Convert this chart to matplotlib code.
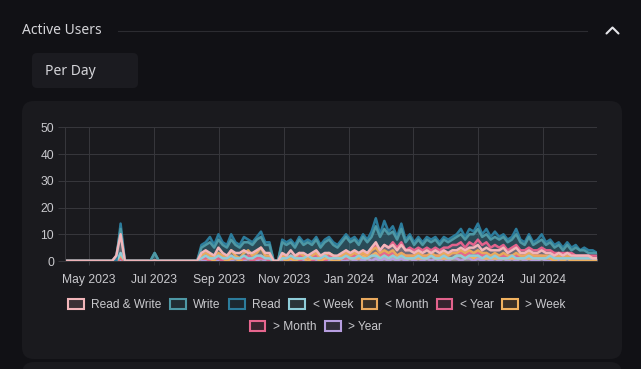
import numpy as np
import pandas as pd
import matplotlib
matplotlib.use("Agg")
import matplotlib.pyplot as plt
import matplotlib.dates as mdates
from matplotlib.patches import FancyBboxPatch, Patch
from matplotlib.colors import to_rgba

# one point every 4 days, 2023-04-09 .. 2024-08-21
dates = pd.date_range("2023-04-09", periods=126, freq="4D")

read = ([0] * 12 + [0, 14, 0] + [0] * 6 + [3] + [0] * 10
        + [6, 7, 9, 6, 10, 7, 6, 10, 7, 6, 9, 8, 7, 9, 11, 7, 7] + [0, 0]
        + [8, 7, 8, 6, 9, 7, 8, 7, 9, 6, 8, 9, 7, 6, 8, 10, 8, 9, 7, 10,
           8, 11, 16, 10, 15, 11, 13, 9, 14, 8, 10, 7, 9, 7, 9, 8, 9, 7, 9, 8,
           9, 10, 12, 9, 12, 11, 14, 10, 12, 9, 11, 9, 10, 8, 9, 12, 8, 7, 10, 7,
           8, 10, 7, 8, 6, 7, 5, 7, 5, 6, 4, 5, 4, 4, 3])
write = ([0] * 12 + [2, 12, 0] + [0] * 6 + [3] + [0] * 10
         + [5, 6, 7, 5, 8, 6, 5, 8, 6, 5, 7, 7, 6, 8, 9, 6, 6] + [0, 0]
         + [7, 6, 7, 5, 8, 6, 7, 6, 8, 5, 7, 8, 6, 5, 7, 9, 7, 8, 6, 9,
            7, 9, 13, 9, 12, 10, 11, 8, 12, 7, 9, 6, 8, 6, 8, 7, 8, 6, 8, 7,
            8, 9, 10, 8, 10, 10, 12, 9, 10, 8, 9, 8, 9, 7, 8, 10, 7, 6, 9, 6,
            7, 8, 6, 7, 5, 6, 4, 6, 4, 5, 4, 4, 3, 3, 3])
read_write = ([0] * 12 + [2, 10, 0] + [0] * 6 + [0] + [0] * 10
              + [3, 4, 3, 2, 5, 3, 2, 4, 3, 3, 4, 3, 3, 4, 5, 3, 3] + [0, 0]
              + [3, 2, 4, 2, 3, 3, 2, 3, 4, 2, 3, 3, 2, 2, 3, 4, 3, 4, 3, 4,
                 3, 5, 7, 4, 6, 5, 6, 4, 6, 4, 4, 3, 4, 3, 4, 3, 4, 3, 4, 3,
                 4, 4, 5, 4, 5, 5, 6, 4, 5, 4, 4, 4, 5, 3, 4, 5, 3, 3, 4, 3,
                 3, 4, 3, 3, 2, 3, 2, 3, 2, 2, 2, 2, 2, 1, 1])
lt_week = ([0] * 12 + [0, 3, 0] + [0] * 6 + [0] + [0] * 10
           + [1, 2, 1, 1, 2, 1, 1, 2, 1, 1, 2, 1, 1, 2, 2, 1, 1] + [0, 0]
           + [1, 1, 2, 1, 1, 1, 2, 1, 1, 1, 2, 1, 1, 1, 1, 2, 1, 1, 2, 1,
              1, 2, 2, 1, 2, 1, 2, 1, 2, 1, 1, 1, 2, 1, 1, 2, 1, 1, 2, 1,
              1, 2, 2, 1, 2, 2, 2, 1, 2, 1, 2, 1, 1, 1, 2, 1, 1, 1, 2, 1,
              1, 1, 1, 2, 1, 1, 1, 1, 1, 1, 1, 1, 1, 1, 1])
lt_month = ([0] * 12 + [0, 2, 0] + [0] * 6 + [0] + [0] * 10
            + [2, 3, 2, 1, 3, 2, 1, 4, 2, 1, 3, 4, 2, 3, 5, 2, 2] + [0, 0]
            + [2, 1, 2, 1, 3, 2, 1, 2, 3, 1, 2, 3, 2, 1, 2, 3, 2, 3, 2, 3,
               2, 4, 5, 3, 4, 3, 4, 2, 3, 2, 2, 2, 3, 2, 2, 3, 2, 2, 3, 2,
               3, 3, 4, 3, 4, 3, 4, 3, 3, 2, 3, 2, 3, 2, 2, 3, 2, 2, 3, 2,
               2, 2, 2, 2, 1, 2, 1, 2, 1, 1, 1, 1, 1, 1, 1])
lt_year = ([0] * 12 + [0, 1, 0] + [0] * 6 + [0] + [0] * 10
           + [1, 1, 2, 1, 1, 1, 1, 2, 1, 1, 1, 2, 1, 1, 2, 1, 1] + [0, 0]
           + [2, 1, 2, 1, 2, 2, 1, 2, 2, 1, 2, 2, 1, 1, 2, 3, 2, 3, 2, 3,
              3, 4, 6, 4, 6, 5, 7, 5, 7, 4, 5, 4, 5, 4, 5, 4, 5, 4, 5, 5,
              6, 6, 7, 5, 7, 6, 8, 6, 7, 5, 6, 5, 6, 4, 5, 6, 4, 4, 5, 4,
              4, 5, 4, 4, 3, 3, 3, 3, 3, 2, 2, 2, 2, 2, 2])
gt_week = ([0] * 12 + [0, 1, 0] + [0] * 6 + [0] + [0] * 10
           + [1, 1, 1, 0, 2, 1, 0, 1, 1, 0, 1, 2, 1, 1, 2, 1, 1] + [0, 0]
           + [1, 0, 1, 0, 1, 1, 0, 1, 1, 0, 1, 1, 0, 0, 1, 2, 1, 1, 1, 2,
              1, 2, 3, 1, 2, 1, 2, 1, 2, 1, 1, 1, 1, 1, 1, 2, 1, 1, 1, 1,
              1, 2, 2, 1, 2, 1, 2, 1, 1, 1, 1, 1, 1, 1, 1, 1, 1, 1, 1, 1,
              1, 1, 1, 1, 0, 1, 0, 1, 0, 0, 0, 0, 0, 0, 0])
gt_month = ([0] * 12 + [0, 1, 0] + [0] * 6 + [0] + [0] * 10
            + [1, 1, 0, 1, 1, 0, 1, 1, 1, 0, 1, 1, 0, 1, 1, 1, 0] + [0, 0]
            + [1, 0, 1, 1, 0, 1, 1, 0, 1, 1, 0, 1, 1, 0, 1, 1, 1, 2, 1, 2,
               1, 2, 3, 2, 3, 2, 3, 2, 3, 2, 2, 2, 2, 2, 2, 2, 2, 2, 2, 2,
               3, 3, 3, 2, 3, 3, 3, 2, 3, 2, 2, 2, 2, 2, 2, 2, 2, 2, 2, 2,
               2, 2, 1, 2, 1, 1, 1, 1, 1, 1, 1, 1, 1, 1, 1])
gt_year = ([0] * 12 + [0, 0, 0] + [0] * 6 + [0] + [0] * 10
           + [0, 0, 1, 0, 0, 1, 0, 0, 1, 0, 0, 1, 0, 0, 1, 0, 0] + [0, 0]
           + [0, 1, 0, 0, 1, 0, 0, 1, 0, 0, 1, 0, 0, 1, 0, 0, 1, 0, 1, 0,
              1, 0, 1, 0, 1, 0, 1, 0, 1, 0, 1, 0, 1, 0, 1, 0, 1, 0, 1, 0,
              1, 1, 0, 1, 1, 0, 1, 0, 1, 0, 1, 0, 1, 0, 1, 0, 1, 0, 1, 0,
              0, 1, 0, 0, 1, 0, 0, 1, 0, 0, 0, 1, 0, 0, 0])

labels = ["Read & Write", "Write", "Read", "< Week", "< Month", "< Year",
          "> Week", "> Month", "> Year"]
colors = ["#f2b6ba", "#4e98a5", "#2c7c9c", "#8fcdd9", "#e9a95e", "#e2628c",
          "#f1b260", "#e6668e", "#b79ee0"]
series = [read_write, write, read, lt_week, lt_month, lt_year,
          gt_week, gt_month, gt_year]

BG = "#111115"
CARD = "#1a1a1e"
GRID = "#36363b"
TXT = "#c9c9cd"

W, H = 641, 369
fig = plt.figure(figsize=(W / 100, H / 100), dpi=100, facecolor=BG)

# page furniture in pixel coordinates
bg = fig.add_axes([0, 0, 1, 1], zorder=0)
bg.set_xlim(0, W)
bg.set_ylim(H, 0)
bg.axis("off")
bg.add_patch(FancyBboxPatch((22, 101), 600, 258, boxstyle="round,pad=0,rounding_size=12",
                            fc=CARD, ec="none"))
bg.add_patch(FancyBboxPatch((22, 362), 600, 60, boxstyle="round,pad=0,rounding_size=12",
                            fc=CARD, ec="none"))
bg.add_patch(FancyBboxPatch((32, 53), 106, 35, boxstyle="round,pad=0,rounding_size=5",
                            fc="#1b1b20", ec="none"))
bg.text(22, 30.5, "Active Users", color="#d4d4d8", fontsize=10, family="Noto Sans",
        va="center", ha="left")
bg.text(45, 71.5, "Per Day", color="#d4d4d8", fontsize=10, family="Noto Sans",
        va="center", ha="left")
bg.plot([118, 587], [30.5, 30.5], color="#2c2c31", lw=0.8)
bg.plot([606.5, 612.5, 618.5], [33.5, 27.5, 33.5], color="#e6e6ea", lw=1.5,
        solid_capstyle="round", solid_joinstyle="round")

ax = fig.add_axes([65.3 / W, 1 - 261 / H, (597 - 65.3) / W, (261 - 127.3) / H], zorder=1)
ax.set_facecolor("none")

for lab, vals, c in reversed(list(zip(labels, series, colors))):
    ax.fill_between(dates, vals, 0, color=c, alpha=0.25, lw=0)
    ax.plot(dates, vals, color=c, lw=1.8)

ax.set_xlim(dates[0], dates[-1])
ax.set_ylim(0, 50)
ax.set_yticks(range(0, 51, 10))
ax.xaxis.set_major_locator(mdates.MonthLocator(bymonth=[1, 3, 5, 7, 9, 11]))
ax.xaxis.set_major_formatter(mdates.DateFormatter("%b %Y"))
ax.grid(True, color=GRID, lw=0.75)
ax.set_axisbelow(True)
for s in ["top", "right"]:
    ax.spines[s].set_visible(False)
for s in ["left", "bottom"]:
    ax.spines[s].set_color(GRID)
    ax.spines[s].set_linewidth(0.75)
ax.tick_params(axis="y", length=5, width=0.75, color=GRID, pad=3, labelcolor=TXT)
ax.tick_params(axis="x", length=3, width=0.75, color=GRID, pad=6.5, labelcolor=TXT)
for t in ax.get_xticklabels() + ax.get_yticklabels():
    t.set_family("Liberation Sans")
    t.set_fontsize(8.7)

handles = [Patch(facecolor=to_rgba(c, 0.15), edgecolor=c, lw=1.5, label=l)
           for l, c in zip(labels, colors)]
leg_kw = dict(frameon=False, handlelength=1.3, handleheight=0.95, handletextpad=0.65,
              columnspacing=0.7, labelcolor=TXT,
              prop={"family": "Liberation Sans", "size": 8.6})
fig.legend(handles=handles[:7], ncol=7, loc="center", bbox_to_anchor=(317 / W, 1 - 305 / H),
           **leg_kw)
fig.legend(handles=handles[7:], ncol=2, loc="center", bbox_to_anchor=(316 / W, 1 - 327 / H),
           **leg_kw)

fig.savefig("out.png", dpi=100, facecolor=BG)
